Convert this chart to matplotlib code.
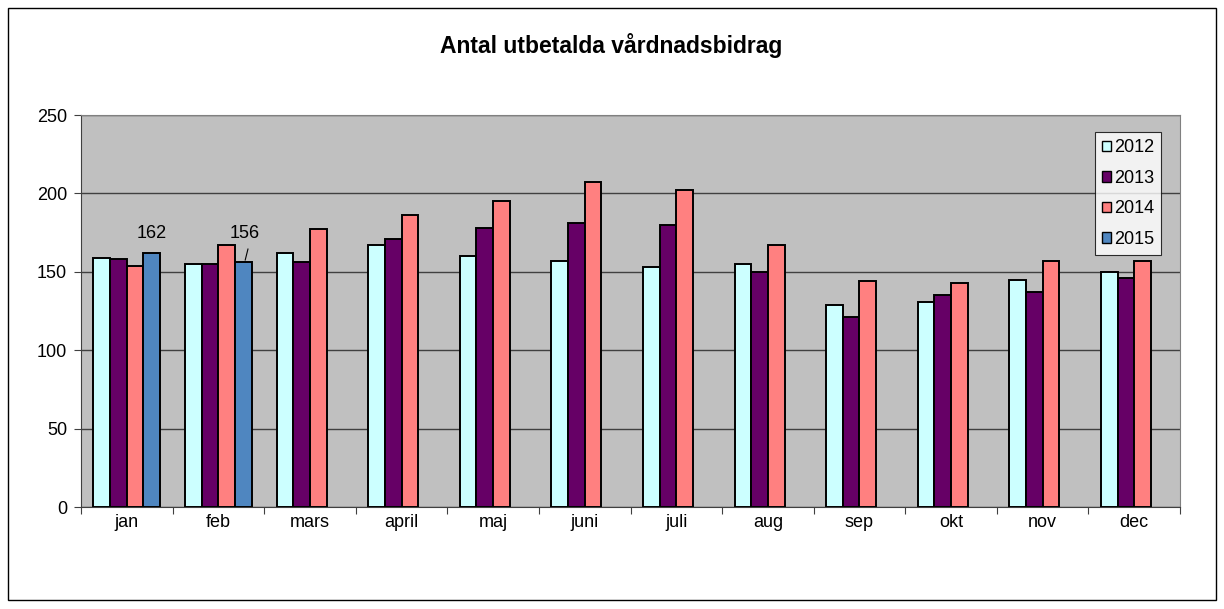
import numpy as np
import matplotlib
matplotlib.use("Agg")
import matplotlib.pyplot as plt
from matplotlib.patches import Rectangle

plt.rcParams['font.family'] = ['Liberation Sans', 'DejaVu Sans']

months = ["jan", "feb", "mars", "april", "maj", "juni", "juli",
          "aug", "sep", "okt", "nov", "dec"]
v2012 = [159, 155, 162, 167, 160, 157, 153, 155, 129, 131, 145, 150]
v2013 = [158, 155, 156, 171, 178, 181, 180, 150, 121, 135, 137, 146]
v2014 = [154, 167, 177, 186, 195, 207, 202, 167, 144, 143, 157, 157]
v2015 = [162, 156]
years = ["2012", "2013", "2014", "2015"]
colors = ["#CCFFFF", "#660066", "#FF8080", "#4F86C0"]

fs = 13

fig = plt.figure(figsize=(12.24, 6.09), dpi=100)
fig.patches.append(Rectangle((8/1224, 9/609), 1208/1224, 592/609,
                             transform=fig.transFigure, fill=False,
                             edgecolor='black', linewidth=1.0))

ax = fig.add_axes([81/1224, 102/609, 1099/1224, 392/609])
ax.set_facecolor('#C0C0C0')

x = np.arange(len(months))
w = 0.182
series = [v2012, v2013, v2014, v2015]
for i, vals in enumerate(series):
    xs = x[:len(vals)] + (i - 1.5) * w
    ax.bar(xs, vals, w, color=colors[i], edgecolor='black',
           linewidth=1.4, label=years[i], zorder=3)

# data labels for 2015
ax.text(x[0] + 1.5 * w, 162 + 7, "162", ha='center', va='bottom', fontsize=fs)
ax.text(x[1] + 1.5 * w + 0.01, 156 + 13, "156", ha='center', va='bottom', fontsize=fs)
ax.plot([x[1] + 1.5 * w + 0.02, x[1] + 1.5 * w + 0.05], [157.5, 164.5],
        color='black', linewidth=0.8)

ax.set_ylim(0, 250)
ax.set_xlim(-0.5, len(months) - 0.5)
ax.set_yticks(range(0, 251, 50))
ax.grid(axis='y', color='#404040', linewidth=1.0, zorder=0)
ax.set_axisbelow(True)

ax.set_xticks(np.arange(-0.5, len(months), 1.0))
ax.set_xticklabels([])
ax.set_xticks(x, minor=True)
ax.set_xticklabels(months, minor=True)
ax.tick_params(axis='x', which='minor', length=0, labelsize=fs, pad=5)
ax.tick_params(axis='x', which='major', length=5, direction='out', color='#404040')
ax.tick_params(axis='y', length=5, direction='out', labelsize=fs, pad=5, color='#404040')

for side in ['top', 'right']:
    ax.spines[side].set_color('#808080')
for side in ['left', 'bottom']:
    ax.spines[side].set_color('#404040')

leg = ax.legend(loc='upper right', bbox_to_anchor=(1080/1099, 375/392),
                fontsize=fs, frameon=True, fancybox=False, edgecolor='black',
                handlelength=0.5, handleheight=0.5, handletextpad=0.15,
                labelspacing=0.75, borderpad=0.4, borderaxespad=0)
leg.get_frame().set_linewidth(0.8)
for h in leg.legend_handles:
    h.set_linewidth(1.0)

fig.text(611/1224, 1 - 45/609, "Antal utbetalda vårdnadsbidrag", ha='center',
         va='center', fontsize=16.5, fontweight='bold')

fig.savefig("out.png", dpi=100)
